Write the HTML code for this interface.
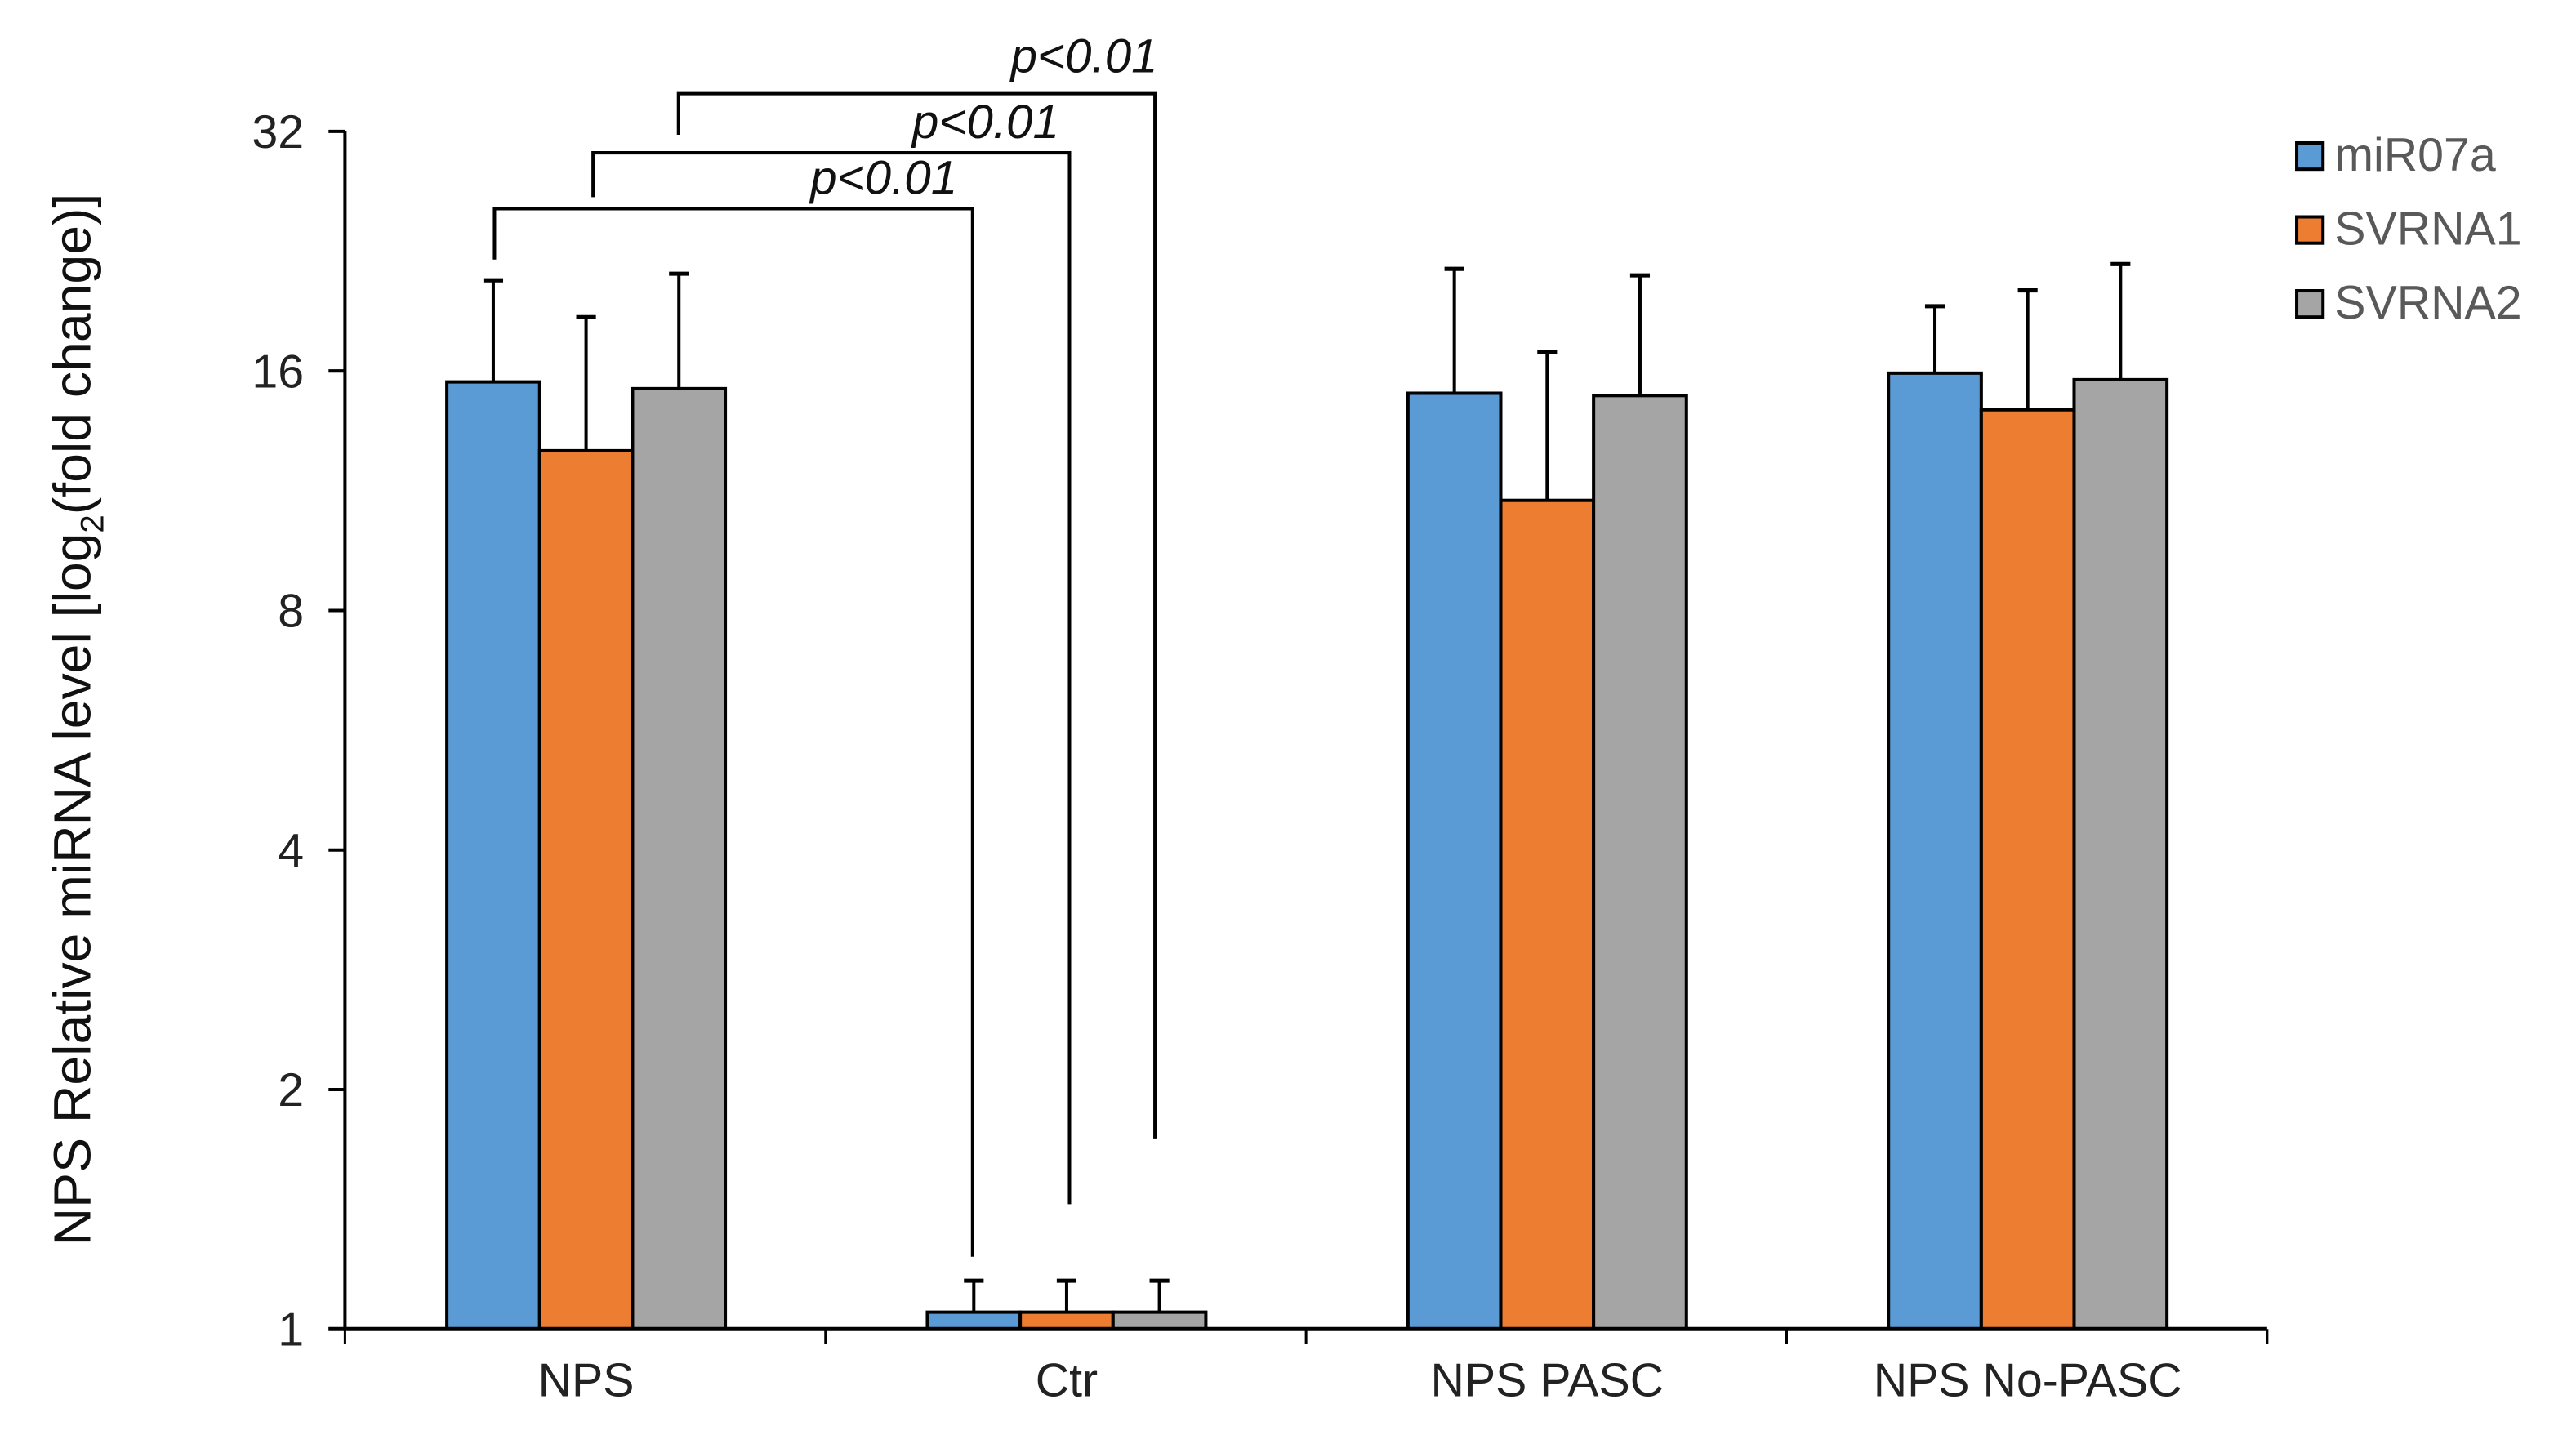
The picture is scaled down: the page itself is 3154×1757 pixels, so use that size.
<!DOCTYPE html>
<html><head><meta charset="utf-8"><style>
html,body{margin:0;padding:0;background:#fff;}
svg{display:block;}
text{font-family:"Liberation Sans",Arial,sans-serif;}
</style></head><body>
<svg id="chart" width="3154" height="1757" viewBox="0 0 1568 873.5" preserveAspectRatio="none" xmlns="http://www.w3.org/2000/svg">
<g id="g"></g>
</svg>
<script>
const categories = ["NPS", "Ctr", "NPS PASC", "NPS No-PASC"];
const seriesNames = ["miR07a", "SVRNA1", "SVRNA2"];
const miR07a = [15.5, 1.05, 15.0, 15.9];
const svrna1 = [12.7, 1.05, 11.0, 14.3];
const svrna2 = [15.2, 1.05, 14.9, 15.6];
const miR07aErr = [20.8, 1.15, 21.5, 19.3];
const svrna1Err = [18.7, 1.15, 16.9, 20.2];
const svrna2Err = [21.2, 1.15, 21.1, 21.8];
const yTicks = [1, 2, 4, 8, 16, 32];
const sigLabels = ["p<0.01", "p<0.01", "p<0.01"];

const colors = ["#5b9bd5", "#ed7d31", "#a5a5a5"];
const values = [miR07a, svrna1, svrna2];
const errs = [miR07aErr, svrna1Err, svrna2Err];
const NS = "http://www.w3.org/2000/svg";
const g = document.getElementById("g");
const X0 = 210, X1 = 1380, Y1 = 809, Y32 = 80;
const catW = (X1 - X0) / categories.length;
const barW = 56.5;
function y(v){ return Y1 - (Math.log2(v) / 5) * (Y1 - Y32); }
function xc(i){ return X0 + catW * (i + 0.5) + 0.5; }
function mk(tag, attrs, parent){
  const e = document.createElementNS(NS, tag);
  for (const k in attrs) e.setAttribute(k, attrs[k]);
  (parent || g).appendChild(e);
  return e;
}
categories.forEach((c, i) => {
  for (let s = 0; s < 3; s++) {
    const bx = xc(i) + (s - 1.5) * barW;
    const top = y(values[s][i]);
    const et = y(errs[s][i]);
    const el = mk("line", {x1: bx + barW/2, x2: bx + barW/2, y1: top, y2: et, stroke: "#000", "stroke-width": 2});
    
    
    const cap = mk("line", {x1: bx + barW/2 - 6, x2: bx + barW/2 + 6, y1: et, y2: et, stroke: "#000", "stroke-width": 2.5});
    
    
    const r = mk("rect", {x: bx, y: top, width: barW, height: Y1 - top, fill: colors[s], stroke: "#000", "stroke-width": 2});
    
    
  }
  const t = mk("text", {x: xc(i), y: 850, "text-anchor": "middle", "font-size": 28.5, fill: "#222"});
  t.textContent = c;
  
  
});
const ya = mk("line", {x1: X0, x2: X0, y1: Y32, y2: Y1, stroke: "#000", "stroke-width": 2});


const xa = mk("line", {x1: X0 - 10, x2: X1, y1: Y1, y2: Y1, stroke: "#000", "stroke-width": 2.5});


for (let i = 0; i <= categories.length; i++) {
  const tx = X0 + catW * i;
  const tk = mk("line", {x1: tx, x2: tx, y1: Y1, y2: Y1 + 9, stroke: "#000", "stroke-width": 1.5});
  
  
}
yTicks.forEach(v => {
  const tk = mk("line", {x1: X0 - 10, x2: X0, y1: y(v), y2: y(v), stroke: "#000", "stroke-width": 2});
  
  
  const t = mk("text", {x: 185, y: y(v) + 10, "text-anchor": "end", "font-size": 28.5, fill: "#222"});
  t.textContent = v;
  
  
});
const yt = mk("text", {x: 0, y: 0, "text-anchor": "middle", "font-size": 32, fill: "#111", transform: "translate(55,438) rotate(-90)"});


yt.innerHTML = 'NPS Relative miRNA level [log<tspan font-size="20" dy="8">2</tspan><tspan dy="-8">(fold change)]</tspan>';
const brackets = [
  {l: 301, r: 592, top: 127, lb: 158, rb: 765, lx: 538, ly: 118},
  {l: 361, r: 651, top: 93, lb: 120, rb: 733, lx: 600, ly: 84},
  {l: 413, r: 703, top: 57, lb: 82, rb: 693, lx: 660, ly: 44}
];
brackets.forEach((b, i) => {
  const p = mk("path", {d: `M${b.l},${b.lb} V${b.top} H${b.r} V${b.rb}`, fill: "none", stroke: "#000", "stroke-width": 2});
  
  
  const t = mk("text", {x: b.lx, y: b.ly, "text-anchor": "middle", "font-size": 29, "font-style": "italic", fill: "#111"});
  t.textContent = sigLabels[i];
  
  
});
seriesNames.forEach((n, i) => {
  const ly = 87 + i * 45;
  const r = mk("rect", {x: 1398, y: ly, width: 16, height: 16, fill: colors[i], stroke: "#000", "stroke-width": 2});
  
  
  const t = mk("text", {x: 1421, y: ly + 17, "font-size": 28.5, fill: "#595959"});
  t.textContent = n;
  
  
});
</script>
</body></html>
